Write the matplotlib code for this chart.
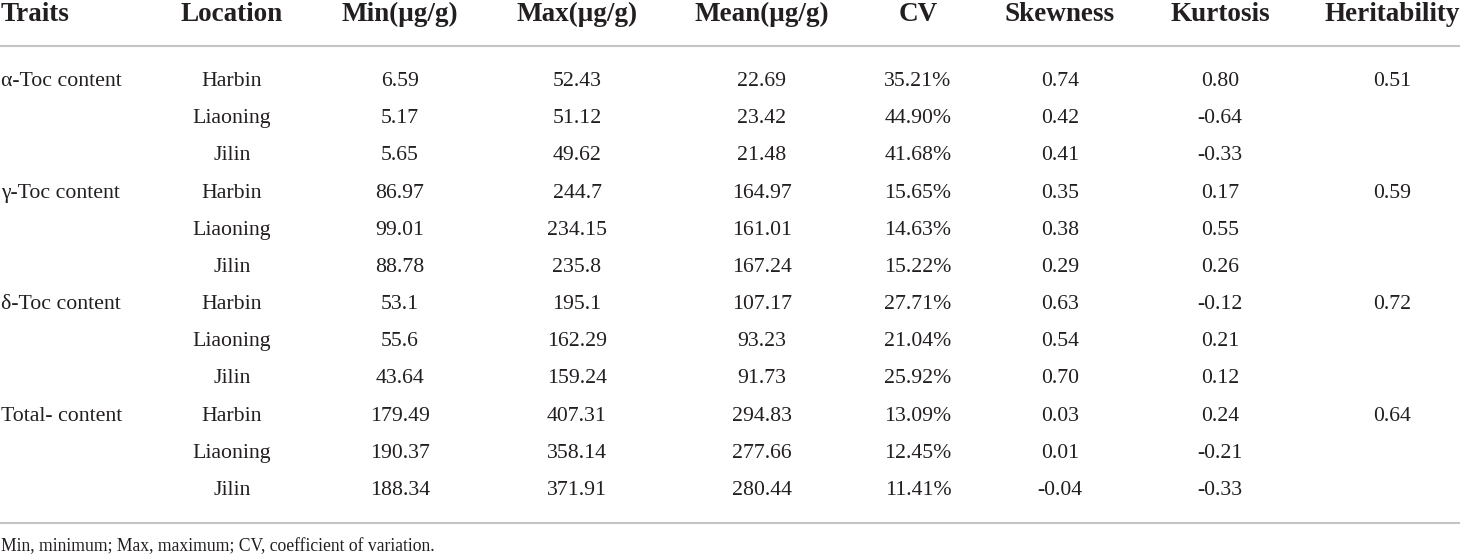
import matplotlib.pyplot as plt

# table contents
headers = ['Traits', 'Location', 'Min(μg/g)', 'Max(μg/g)', 'Mean(μg/g)', 'CV', 'Skewness', 'Kurtosis', 'Heritability']
traits = ['α-Toc content', 'γ-Toc content', 'δ-Toc content', 'Total- content']
locations = ['Harbin', 'Liaoning', 'Jilin']
min_vals = ['6.59', '5.17', '5.65', '86.97', '99.01', '88.78', '53.1', '55.6', '43.64', '179.49', '190.37', '188.34']
max_vals = ['52.43', '51.12', '49.62', '244.7', '234.15', '235.8', '195.1', '162.29', '159.24', '407.31', '358.14', '371.91']
mean_vals = ['22.69', '23.42', '21.48', '164.97', '161.01', '167.24', '107.17', '93.23', '91.73', '294.83', '277.66', '280.44']
cv_vals = ['35.21%', '44.90%', '41.68%', '15.65%', '14.63%', '15.22%', '27.71%', '21.04%', '25.92%', '13.09%', '12.45%', '11.41%']
skew_vals = ['0.74', '0.42', '0.41', '0.35', '0.38', '0.29', '0.63', '0.54', '0.70', '0.03', '0.01', '-0.04']
kurt_vals = ['0.80', '-0.64', '-0.33', '0.17', '0.55', '0.26', '-0.12', '0.21', '0.12', '0.24', '-0.21', '-0.33']
herit_vals = ['0.51', '0.59', '0.72', '0.64']
footnote = 'Min, minimum; Max, maximum; CV, coefficient of variation.'

W, H = 1460, 554
fig = plt.figure(figsize=(W / 100, H / 100), dpi=100)
ax = fig.add_axes([0, 0, 1, 1])
ax.set_xlim(0, W)
ax.set_ylim(H, 0)
ax.axis('off')

plt.rcParams['font.family'] = ['Liberation Serif', 'DejaVu Serif']
txt = '#231f20'
line_col = '#c4c4c4'

col_x = [1, 232, 400, 577, 762, 918, 1060, 1220, 1392]

# header row
for i, h in enumerate(headers):
    ha = 'left' if i == 0 else 'center'
    ax.text(col_x[i], 21, h, ha=ha, va='baseline', fontsize=19.5, fontweight='bold', color=txt)

ax.plot([0, W], [46, 46], color=line_col, lw=1.5)

row_y0 = 86
step = 37.18
cols = [min_vals, max_vals, mean_vals, cv_vals, skew_vals, kurt_vals]
for r in range(12):
    y = row_y0 + r * step
    t, l = divmod(r, 3)
    if l == 0:
        ax.text(col_x[0], y, traits[t], ha='left', va='baseline', fontsize=15.7, color=txt)
        ax.text(col_x[8], y, herit_vals[t], ha='center', va='baseline', fontsize=15.7, color=txt)
    ax.text(col_x[1], y, locations[l], ha='center', va='baseline', fontsize=15.7, color=txt)
    for c, vals in enumerate(cols):
        ax.text(col_x[c + 2], y, vals[r], ha='center', va='baseline', fontsize=15.7, color=txt)

ax.plot([0, W], [523, 523], color=line_col, lw=1.5)
ax.text(1, 551, footnote, ha='left', va='baseline', fontsize=12.7, color=txt)

fig.savefig('out.png', dpi=100)
